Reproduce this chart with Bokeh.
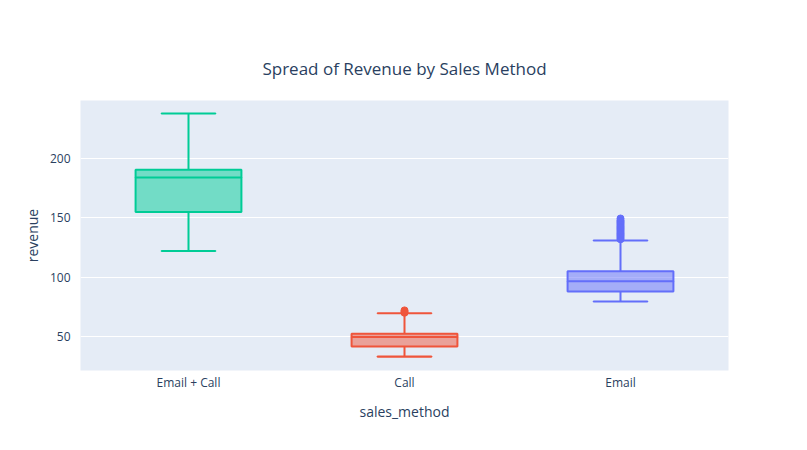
from bokeh.plotting import figure
from bokeh.models import ColumnDataSource, Range1d
from bokeh.embed import file_html
from bokeh.resources import INLINE

methods = ["Email + Call", "Call", "Email"]
colors = ["#00CC96", "#EF553B", "#636EFA"]
lower_fence = [122, 33, 79.5]
q1 = [155, 41.6, 88]
median = [184, 49.5, 96.5]
q3 = [190.7, 52.3, 105]
upper_fence = [238, 69.5, 131]

outlier_method = ["Call", "Call", "Call"] + ["Email"] * 18
outlier_value = [70, 71, 72] + [132, 133, 134, 135, 136, 137, 138, 139, 140,
                                141, 142, 143, 144, 145, 146, 147, 148, 149.5]

p = figure(x_range=methods, width=790, height=430, output_backend="svg",
           toolbar_location=None, title="Spread of Revenue by Sales Method")
p.y_range = Range1d(21.3, 249)
p.min_border_left = 80
p.min_border_right = 62
p.min_border_top = 100
p.min_border_bottom = 60

src = ColumnDataSource(dict(m=methods, c=colors, lo=lower_fence, q1=q1,
                            med=median, q3=q3, hi=upper_fence))
p.segment("m", "lo", "m", "q1", source=src, line_color="c", line_width=2)
p.segment("m", "q3", "m", "hi", source=src, line_color="c", line_width=2)
p.rect("m", "lo", width=0.25, height=0.01, height_units="screen", source=src,
       line_color="c", line_width=2, fill_color=None)
p.rect("m", "hi", width=0.25, height=0.01, height_units="screen", source=src,
       line_color="c", line_width=2, fill_color=None)
p.vbar(x="m", bottom="q1", top="q3", width=0.49, source=src, fill_color="c",
       fill_alpha=0.5, line_color="c", line_width=2)
p.rect("m", "med", width=0.49, height=0.01, height_units="screen", source=src,
       line_color="c", line_width=2, fill_color=None)

ocol = [colors[methods.index(m)] for m in outlier_method]
p.scatter(outlier_method, outlier_value, size=7, color=ocol)

p.background_fill_color = "#E5ECF6"
p.border_fill_color = "white"
p.outline_line_color = None
p.xgrid.grid_line_color = None
p.ygrid.grid_line_color = "white"
p.ygrid.grid_line_width = 1
p.yaxis.ticker = [50, 100, 150, 200]
for ax in (p.xaxis[0], p.yaxis[0]):
    ax.axis_line_color = None
    ax.major_tick_line_color = None
    ax.minor_tick_line_color = None
    ax.major_tick_out = 0
    ax.minor_tick_out = 0
    ax.major_label_text_font = "Open Sans"
    ax.major_label_text_font_size = "12px"
    ax.major_label_text_color = "#2a3f5f"
    ax.axis_label_text_font = "Open Sans"
    ax.axis_label_text_font_size = "14px"
    ax.axis_label_text_font_style = "normal"
    ax.axis_label_text_color = "#2a3f5f"
p.xaxis.major_label_standoff = 3
p.xaxis.axis_label_standoff = 8
p.yaxis.major_label_standoff = 10
p.xaxis.axis_label = "sales_method"
p.yaxis.axis_label = "revenue"
p.title.text_font = "Open Sans"
p.title.text_font_size = "17px"
p.title.text_font_style = "normal"
p.title.text_color = "#2a3f5f"
p.title.align = "center"
p.title.offset = 0
p.title.standoff = 42

open("out.html", "w").write(file_html(p, INLINE))
